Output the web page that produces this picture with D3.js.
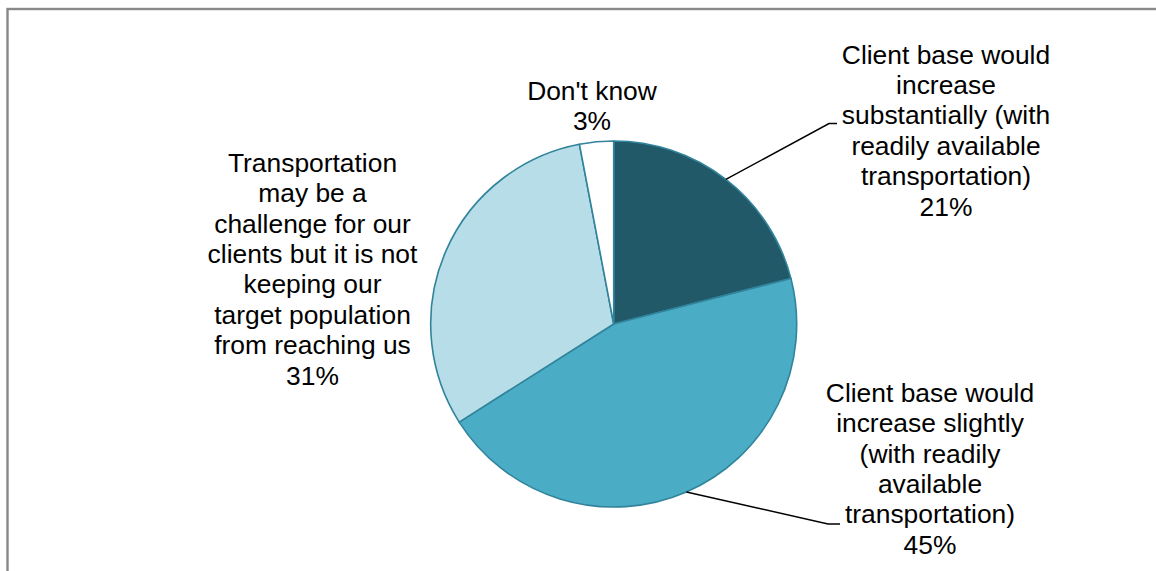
<!DOCTYPE html>
<html>
<head>
<meta charset="utf-8">
<script src="https://cdn.jsdelivr.net/npm/d3@7"></script>
<style>
  html, body { margin: 0; padding: 0; background: #fff; }
  svg { display: block; }
</style>
</head>
<body>
<svg id="chart" width="1156" height="571"></svg>
<script>
// ---- data ----
const categories = [
  "Client base would increase substantially (with readily available transportation)",
  "Client base would increase slightly (with readily available transportation)",
  "Transportation may be a challenge for our clients but it is not keeping our target population from reaching us",
  "Don't know"
];
const values = [21, 45, 31, 3];
const labelLines = [
  ["Client base would", "increase", "substantially (with", "readily available", "transportation)", "21%"],
  ["Client base would", "increase slightly", "(with readily", "available", "transportation)", "45%"],
  ["Transportation", "may be a", "challenge for our", "clients but it is not", "keeping our", "target population", "from reaching us", "31%"],
  ["Don't know", "3%"]
];
const colors = ["#215968", "#4BACC6", "#B7DEE8", "#FFFFFF"];

// ---- layout ----
const svg = d3.select("#chart");
const cx = 613.7, cy = 324, R = 183;
const lineH = 30.4;
const fontSize = 26.4;
const labelLayout = [
  { x: 946, y: 63.5, leader: [829, 123.5, 837] },
  { x: 930, y: 401.7, leader: [828, 524, 840] },
  { x: 312.5, y: 171.7, leader: null },
  { x: 592, y: 100, leader: null }
];

// frame
svg.append("rect")
  .attr("x", 7.5).attr("y", 9)
  .attr("width", 1300).attr("height", 700)
  .attr("fill", "none")
  .attr("stroke", "#898989")
  .attr("stroke-width", 2.4);

const pie = d3.pie().sort(null).value(d => d)(values);
const arc = d3.arc().innerRadius(0).outerRadius(R);

const g = svg.append("g").attr("transform", `translate(${cx},${cy})`);
g.selectAll("path.slice")
  .data(pie)
  .join("path")
  .attr("class", "slice")
  .attr("d", arc)
  .attr("fill", (d, i) => colors[i])
  .attr("stroke", "#31849B")
  .attr("stroke-width", 1.6)
  .attr("stroke-linejoin", "round");

// leader lines
pie.forEach((d, i) => {
  const L = labelLayout[i].leader;
  if (!L) return;
  const a = (d.startAngle + d.endAngle) / 2;
  const sx = cx + R * Math.sin(a), sy = cy - R * Math.cos(a);
  svg.append("path")
    .attr("d", d3.line()([[sx, sy], [L[0], L[1]], [L[2], L[1]]]))
    .attr("fill", "none")
    .attr("stroke", "#000")
    .attr("stroke-width", 1.5);
});

// labels
labelLines.forEach((lines, i) => {
  const p = labelLayout[i];
  const t = svg.append("text")
    .attr("text-anchor", "middle")
    .attr("font-family", "'Liberation Sans', Arial, sans-serif")
    .attr("font-size", fontSize)
    .attr("fill", "#000");
  lines.forEach((ln, j) => {
    t.append("tspan").attr("x", p.x).attr("y", p.y + j * lineH).text(ln);
  });
});
</script>
</body>
</html>
